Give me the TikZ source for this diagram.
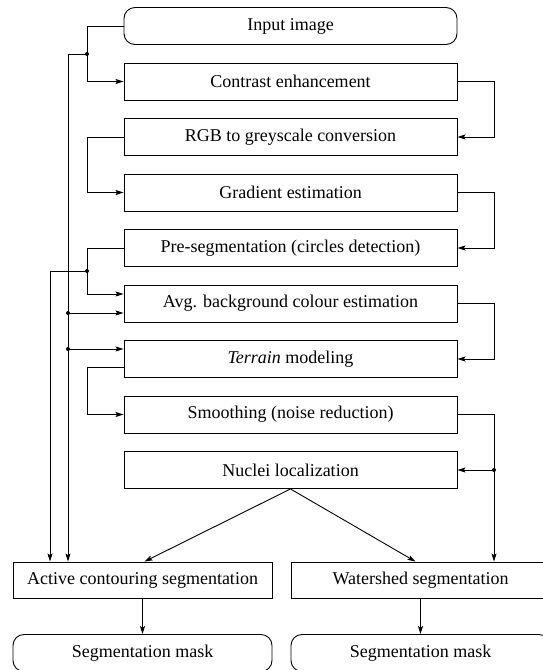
\documentclass[tikz,border=0pt]{standalone}
\usepackage{fontspec}
\setmainfont{Liberation Serif}
\usepackage{tikz}
\usetikzlibrary{positioning}
\usetikzlibrary{arrows.meta}
\tikzset{node distance=55.5pt, % Distance between two steps of the main column
every node/.style={ % Text size of every box
font=\fontsize{18}{20}\selectfont},
stepbox/.style={ % Sets the properties for each step
draw,
rectangle,
minimum width=333pt,
minimum height=37pt},
endbox/.style={ % Start and end of the process
draw,
rounded corners=11pt,
minimum height=37pt},
segbox/.style={ % The two segmentation methods
draw,
rectangle,
minimum width=259pt,
minimum height=36pt},
junction/.style={ % Dots where connectors split
circle,
fill,
inner sep=0pt,
minimum size=4pt},
>={Stealth[length=8pt,width=5pt,inset=1.5pt]}, % Makes connectors directed with bold arrowheads
every path/.style={line width=0.9pt}}

\begin{document}
\begin{tikzpicture}[x=1pt,y=-1pt]
					\useasboundingbox (0,0) rectangle (542,670);

					\node[endbox, minimum width=333pt] (input) at (290.5,26) {Input image};
					\node[stepbox, below of=input] (contrast) {Contrast enhancement};
					\node[stepbox, below of=contrast] (rgb) {RGB to greyscale conversion};
					\node[stepbox, below of=rgb] (gradient) {Gradient estimation};
					\node[stepbox, below of=gradient] (preseg) {Pre-segmentation (circles detection)};
					\node[stepbox, below of=preseg] (avg) {Avg. background colour estimation};
					\node[stepbox, below of=avg] (terrain) {\textit{Terrain} modeling};
					\node[stepbox, below of=terrain] (smooth) {Smoothing (noise reduction)};
					\node[stepbox, below of=smooth] (nuclei) {Nuclei localization};

					\node[segbox] (active) at (142.5,580) {Active contouring segmentation};
					\node[segbox] (water) at (420.5,580) {Watershed segmentation};
					\node[endbox, minimum width=259pt] (maskA) at (142.5,653) {Segmentation mask};
					\node[endbox, minimum width=259pt] (maskW) at (420.5,653) {Segmentation mask};

					% buses on both sides of the column
					\coordinate (busA) at (87,0);
					\coordinate (busB) at (68,0);
					\coordinate (busC) at (50,0);
					\coordinate (busR) at (494,0);
					\coordinate (j1) at (87,54);
					\coordinate (j2) at (87,271);
					\coordinate (avgUp) at ([yshift=9.5pt]avg.west);
					\coordinate (avgLow) at ([yshift=-9.5pt]avg.west);
					\coordinate (terrIn) at ([yshift=10pt]terrain.west);
					\coordinate (terrOut) at ([yshift=-8pt]terrain.west);

					% left side
					\draw[->] (input.west) -- (input.west -| busA) |- (contrast.west);
					\draw[->] (j1) -- (j1 -| busB) -- (busB |- active.north);
					\draw[->] (rgb.west) -- (rgb.west -| busA) |- (gradient.west);
					\draw[->] (preseg.west) -- (preseg.west -| busA) |- (avgUp);
					\draw[->] (j2) -- (j2 -| busC) -- (busC |- active.north);
					\draw[->] (busB |- avgLow) -- (avgLow);
					\draw[->] (busB |- terrIn) -- (terrIn);
					\draw[->] (terrOut) -- (terrOut -| busA) |- (smooth.west);
					\node[junction] at (j1) {};
					\node[junction] at (j2) {};
					\node[junction] at (busB |- avgLow) {};
					\node[junction] at (busB |- terrIn) {};

					% right side
					\draw[->] (contrast.east) -- (contrast.east -| busR) |- (rgb.east);
					\draw[->] (gradient.east) -- (gradient.east -| busR) |- (preseg.east);
					\draw[->] (avg.east) -- (avg.east -| busR) |- (terrain.east);
					\draw[->] (smooth.east) -- (smooth.east -| busR) -- (busR |- water.north);
					\draw[->] (busR |- nuclei.east) -- (nuclei.east);
					\node[junction] at (busR |- nuclei.east) {};

					% bottom
					\draw[->] (nuclei.south) -- ([xshift=2pt]active.north);
					\draw[->] (nuclei.south) -- ([xshift=-5pt]water.north);
					\draw[->] (active.south) -- (maskA.north);
					\draw[->] (water.south) -- (maskW.north);
				\end{tikzpicture}
\end{document}
